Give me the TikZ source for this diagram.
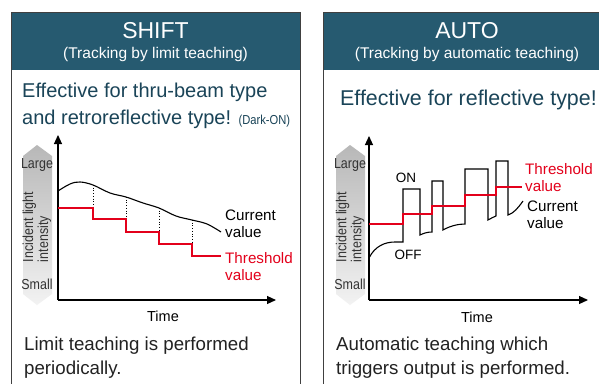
\documentclass[tikz,border=0pt]{standalone}
\usepackage{fontspec}
\setmainfont{Liberation Sans}
\newfontfamily\narrowfont[FakeStretch=0.86]{Liberation Sans}
\usetikzlibrary{arrows.meta}
\definecolor{hdr}{HTML}{265A70}
\definecolor{ttl}{HTML}{1A4458}
\definecolor{thr}{HTML}{E3001B}
\definecolor{txt}{HTML}{222222}
\begin{document}
\begin{tikzpicture}[x=1pt,y=-1pt,
  panel/.style={draw=black!75,line width=0.9pt},
  hdrtitle/.style={text=white,font=\fontsize{23}{26}\selectfont,anchor=base,inner sep=0pt},
  hdrsub/.style={text=white,font=\fontsize{15.5}{18}\selectfont,anchor=base,inner sep=0pt},
  eff/.style={text=ttl,font=\fontsize{20}{27}\selectfont,anchor=base west,inner sep=0pt},
  bottomtxt/.style={text=txt,font=\fontsize{18.7}{24}\selectfont,anchor=base west,inner sep=0pt},
  axis/.style={line width=1.1pt,-{Triangle[length=9pt,width=8pt]}},
  scale lbl/.style={text=black!80,font=\narrowfont\fontsize{14.5}{16}\selectfont,inner sep=0pt},
  lbl/.style={font=\fontsize{15.2}{17}\selectfont,inner sep=0pt,align=left,anchor=west},
  curve/.style={line width=1.1pt,black},
  thresh/.style={line width=1.9pt,thr},
  dropline/.style={dotted,line width=0.7pt},
  grayarrow/.style={top color=black!28,bottom color=black!5,draw=none}
]
\useasboundingbox (0,0) rectangle (599,383);
\clip (0,0) rectangle (599,383);
\fill[white] (0,0) rectangle (599,383);

% ---------- panels ----------
\fill[hdr] (11,12) rectangle (300,70);
\draw[panel] (11,400) -- (11,12) -- (300,12) -- (300,400);
\fill[hdr] (323,12) rectangle (612,70);
\draw[panel] (323,400) -- (323,12) -- (612,12);

\node[hdrtitle] (shift) at (155.5,38) {SHIFT};
\node[hdrsub] (shiftsub) at (155.5,58) {(Tracking by limit teaching)};
\node[hdrtitle] (auto) at (467,38) {AUTO};
\node[hdrsub] (autosub) at (467,58) {(Tracking by automatic teaching)};

\node[eff] (effL1) at (22,97) {Effective for thru-beam type};
\node[eff] (effL2) at (22,124) {and retroreflective type! {\narrowfont\fontsize{13}{14}\selectfont(Dark-ON)}};
\node[eff,font=\fontsize{21.4}{27}\selectfont] (effR) at (340,105) {Effective for reflective type!};

\node[bottomtxt] (botL1) at (24,350) {Limit teaching is performed};
\node[bottomtxt] (botL2) at (24,374) {periodically.};
\node[bottomtxt] (botR1) at (336,350) {Automatic teaching which};
\node[bottomtxt] (botR2) at (336,374) {triggers output is performed.};

% ---------- left graph ----------
\shade[grayarrow] (37,145) -- (52,156) -- (52,294) -- (37,305) -- (23,294) -- (23,156) -- cycle;
\node[scale lbl] (largeL) at (37,165) {Large};
\node[scale lbl] (smallL) at (37,284) {Small};
\node[scale lbl,rotate=90,align=left,font=\narrowfont\fontsize{14.5}{15}\selectfont] (incL) at (37,227) {Incident light\\intensity};

\coordinate (oL) at (58,300);
\coordinate (yL) at (58,135);
\coordinate (xL) at (276,300);
\draw[axis] (oL) -- (yL);
\draw[axis] (oL) -- (xL);
\node[font=\fontsize{14.5}{16}\selectfont] (timeL) at (163,316) {Time};

\draw[curve] plot[smooth,tension=0.6] coordinates {(58,191) (70,184) (80,182) (93,185) (110,193) (126,197) (143,203) (159,208) (176,216) (192,220) (207,224) (221,232)};
\draw[dropline] (93,185) -- (93,208);
\draw[dropline] (126,197) -- (126,219);
\draw[dropline] (159,208) -- (159,232);
\draw[dropline] (192,220) -- (192,244);
\draw[thresh] (58,208) -- (93,208) -- (93,219) -- (126,219) -- (126,232) -- (159,232) -- (159,244) -- (192,244) -- (192,256) -- (221,256);

\node[lbl] (curL) at (225,224) {Current\\value};
\node[lbl,text=thr] (thrL) at (225,266.5) {Threshold\\value};

% ---------- right graph ----------
\shade[grayarrow] (350,145) -- (365,156) -- (365,294) -- (350,305) -- (336,294) -- (336,156) -- cycle;
\node[scale lbl] (largeR) at (350,165) {Large};
\node[scale lbl] (smallR) at (350,284) {Small};
\node[scale lbl,rotate=90,align=left,font=\narrowfont\fontsize{14.5}{15}\selectfont] (incR) at (350,227) {Incident light\\intensity};

\coordinate (oR) at (369,300);
\coordinate (yR) at (369,136);
\coordinate (xR) at (588,300);
\draw[axis] (oR) -- (yR);
\draw[axis] (oR) -- (xR);
\node[font=\fontsize{14.5}{16}\selectfont] (timeR) at (477,317) {Time};

\draw[curve,line join=miter] (369,258) .. controls (375,246) and (385,242) .. (395,242) -- (403,242) -- (403,189) -- (420,189) -- (420,235)
  .. controls (424,233) and (428,232) .. (432,232) -- (432,181) -- (443,181) -- (443,230)
  .. controls (450,226) and (458,224) .. (465,224) -- (465,169) -- (488,169) -- (488,220)
  .. controls (491,218) and (494,217) .. (496,216) -- (496,161) -- (508,161) -- (508,215)
  .. controls (514,213) and (518,208) .. (523,201);
\draw[thresh] (369,224) -- (403,224) -- (403,214) -- (432,214) -- (432,206) -- (465,206) -- (465,195) -- (496,195) -- (496,187) -- (522,187);

\node[font=\fontsize{13.5}{16}\selectfont,inner sep=0pt] (on) at (406,178) {ON};
\node[font=\fontsize{13.5}{16}\selectfont,inner sep=0pt] (off) at (408,255) {OFF};
\node[lbl,text=thr] (thrR) at (525,177.5) {Threshold\\value};
\node[lbl] (curR) at (527,215) {Current\\value};
\end{tikzpicture}
\end{document}
